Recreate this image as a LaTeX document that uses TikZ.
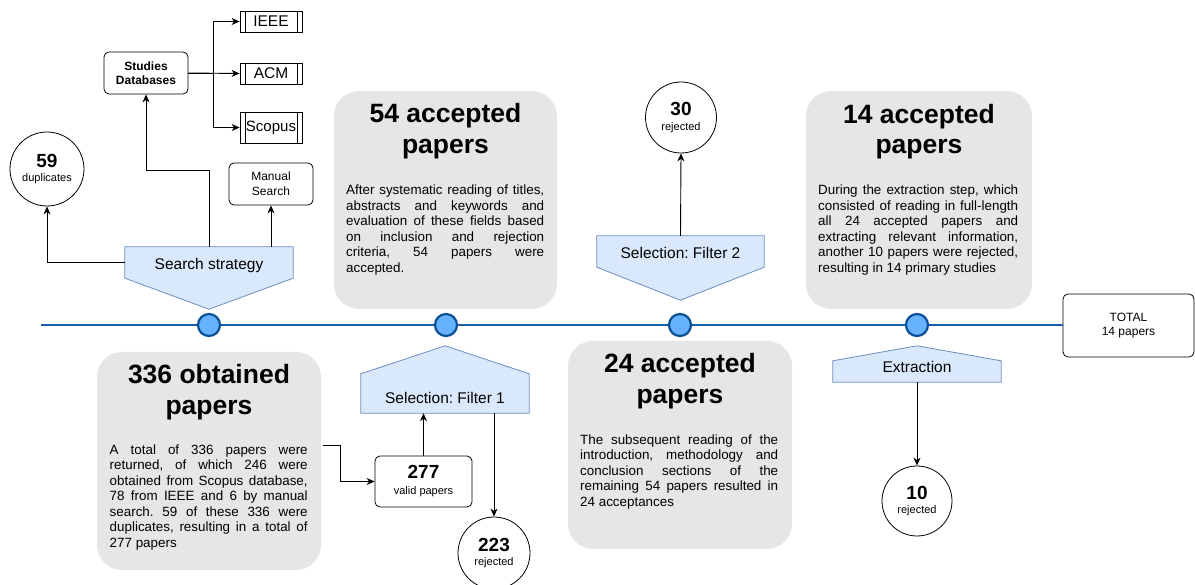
\documentclass[tikz,border=0pt]{standalone}
\usepackage{fontspec}
\setmainfont{Liberation Sans}
\usetikzlibrary{arrows.meta,backgrounds}
\frenchspacing
\definecolor{boxgray}{HTML}{E6E6E6}
\definecolor{pentfill}{HTML}{DAE8FC}
\definecolor{pentdraw}{HTML}{6C8EBF}
\definecolor{tlblue}{HTML}{1A5EA8}
\definecolor{dotdraw}{HTML}{0B4F97}
\definecolor{dotfill}{HTML}{66B2FF}
\def\jw{198pt}
\newcommand{\jl}[1]{\hbox to \jw{#1}}
\tikzset{
  graybox/.style={fill=boxgray, rounded corners=25pt, inner sep=0pt},
  titletext/.style={anchor=north, align=center, inner sep=0pt, font=\fontsize{26.5}{30.5}\selectfont\bfseries},
  bodytext/.style={anchor=north west, align=left, inner sep=0pt, font=\fontsize{13.4}{15.5}\selectfont},
  smallbox/.style={draw, rounded corners=5pt, line width=0.8pt, inner sep=0pt, align=center},
  procbox/.style={draw, line width=0.8pt, inner sep=0pt, minimum width=62pt,
    path picture={
      \draw[line width=0.8pt] ([xshift=5pt]path picture bounding box.north west) -- ([xshift=5pt]path picture bounding box.south west);
      \draw[line width=0.8pt] ([xshift=-5pt]path picture bounding box.north east) -- ([xshift=-5pt]path picture bounding box.south east);
    }},
  numcircle/.style={draw, circle, line width=0.8pt, inner sep=0pt, align=center, font=\fontsize{11}{14.3}\selectfont},
  pentrect/.style={inner sep=0pt, minimum width=168pt},
  pent/.style={fill=pentfill, draw=pentdraw, line width=0.8pt},
  pentlabel/.style={anchor=base, inner sep=0pt, font=\fontsize{15.5}{18}\selectfont},
  arr/.style={-{Stealth[length=8pt,width=7pt,inset=2.5pt]}, line width=0.9pt},
  tl/.style={draw=tlblue, line width=2.2pt},
  dot/.style={circle, draw=dotdraw, fill=dotfill, line width=2.2pt, minimum size=22pt, inner sep=0pt}
}
\begin{document}
\begin{tikzpicture}[x=1pt,y=-1pt]
\useasboundingbox (0,0) rectangle (1195,585);

% ---------- gray boxes ----------
\node[graybox, minimum width=223pt, minimum height=218pt] (b54) at (445.5,200) {};
\node[graybox, minimum width=226pt, minimum height=218pt] (b14) at (919,200) {};
\node[graybox, minimum width=224pt, minimum height=218pt] (b336) at (209,461) {};
\node[graybox, minimum width=224pt, minimum height=208pt] (b24) at (680,445) {};

\node[titletext] (t54) at (445.5,101.5) {\rule{0pt}{21pt}54 accepted\\papers};
\node[titletext] (t14) at (919,102.3) {\rule{0pt}{21pt}14 accepted\\papers};
\node[titletext] (t336) at (209,362.3) {\rule{0pt}{21pt}336 obtained\\papers};
\node[titletext] (t24) at (680,351.7) {\rule{0pt}{21pt}24 accepted\\papers};

\node[bodytext] (d54) at (346,183.5) {%
\jl{\rule{0pt}{11pt}After systematic reading of titles,}\\
\jl{abstracts and keywords and}\\
\jl{evaluation of these fields based}\\
\jl{on inclusion and rejection}\\
\jl{criteria, 54 papers were}\\
accepted.};

\node[bodytext, execute at begin node={\def\jw{200pt}}] (d14) at (818,183.5) {%
\jl{\rule{0pt}{11pt}During the extraction step, which}\\
\jl{consisted of reading in full-length}\\
\jl{all 24 accepted papers and}\\
\jl{extracting relevant information,}\\
\jl{another 10 papers were rejected,}\\
resulting in 14 primary studies};

\node[bodytext] (d336) at (109.5,443) {%
\jl{\rule{0pt}{11pt}A total of 336 papers were}\\
\jl{returned, of which 246 were}\\
\jl{obtained from Scopus database,}\\
\jl{78 from IEEE and 6 by manual}\\
\jl{search. 59 of these 336 were}\\
\jl{duplicates, resulting in a total of}\\
277 papers};

\node[bodytext] (d24) at (580,433) {%
\jl{\rule{0pt}{11pt}The subsequent reading of the}\\
\jl{introduction, methodology and}\\
\jl{conclusion sections of the}\\
\jl{remaining 54 papers resulted in}\\
24 acceptances};

% ---------- pentagon shapes ----------
\node[pentrect, minimum height=31pt] (ss) at (209,262.5) {};
\node[pentrect, minimum width=167pt, minimum height=31pt] (f2) at (680.5,251.5) {};
\node[pentrect, minimum height=39pt] (f1) at (445,393.5) {};
\node[pentrect, minimum height=21pt] (ex) at (917,371.5) {};
\begin{scope}[on background layer]
\draw[pent] (ss.north west) -- (ss.north east) -- (ss.south east) -- ([yshift=-31pt]ss.south) -- (ss.south west) -- cycle;
\draw[pent] (f2.north west) -- (f2.north east) -- (f2.south east) -- ([yshift=-33pt]f2.south) -- (f2.south west) -- cycle;
\draw[pent] (f1.south west) -- (f1.north west) -- ([yshift=28pt]f1.north) -- (f1.north east) -- (f1.south east) -- cycle;
\draw[pent] (ex.south west) -- (ex.north west) -- ([yshift=15pt]ex.north) -- (ex.north east) -- (ex.south east) -- cycle;
\end{scope}
\node[pentlabel] (ssl) at (209,269.3) {Search strategy};
\node[pentlabel] (f2l) at (680.5,258.3) {Selection: Filter 2};
\node[pentlabel] (f1l) at (445,403.3) {Selection: Filter 1};
\node[pentlabel] (exl) at (917,372.3) {Extraction};

% ---------- small boxes ----------
\node[smallbox, minimum width=84pt, minimum height=42pt, font=\fontsize{12}{14.3}\selectfont\bfseries] (sdb) at (146,73) {Studies\\Databases};
\node[smallbox, minimum width=84pt, minimum height=42pt, font=\fontsize{12}{15}\selectfont] (ms) at (271,184) {Manual\\Search};
\node[procbox, minimum height=21pt, font=\fontsize{15.5}{18}\selectfont] (ieee) at (271,21.5) {IEEE};
\node[procbox, minimum height=21pt, font=\fontsize{15.5}{18}\selectfont] (acm) at (271,73.5) {ACM};
\node[procbox, minimum height=31pt, font=\fontsize{15}{18}\selectfont] (scopus) at (271,127.5) {Scopus};
\node[smallbox, minimum width=97pt, minimum height=51pt, font=\fontsize{11}{16}\selectfont] (v277) at (423.5,481.5) {{\fontsize{19}{19}\selectfont\bfseries 277}\\valid papers};
\node[smallbox, minimum width=131pt, minimum height=63pt, font=\fontsize{12}{14.4}\selectfont] (total) at (1128.5,325.5) {TOTAL\\14 papers};

% ---------- circles ----------
\node[numcircle, minimum size=74pt] (c59) at (47,169) {{\fontsize{19}{19}\selectfont\bfseries 59}\\duplicates};
\node[numcircle, minimum size=71pt] (c30) at (681,117.5) {{\fontsize{19}{19}\selectfont\bfseries 30}\\rejected};
\node[numcircle, minimum size=72pt] (c223) at (494,553) {{\fontsize{19}{19}\selectfont\bfseries 223}\\rejected};
\node[numcircle, minimum size=70pt] (c10) at (917,501) {{\fontsize{19}{19}\selectfont\bfseries 10}\\rejected};

% ---------- timeline ----------
\coordinate (tl0) at (41,325);
\draw[tl] (tl0) -- (tl0 -| total.west);
\node[dot] (p1) at (209,325) {};
\node[dot] (p2) at (446,325) {};
\node[dot] (p3) at (680,325) {};
\node[dot] (p4) at (917,325) {};

% ---------- connectors ----------
\draw[arr] (ss.west) -| (c59.south);
\draw[arr] (ss.north) -- ++(0,-76) -| (sdb.south);
\draw[arr] (ss.north -| ms.south) -- (ms.south);
\draw[arr] (sdb.east) -- (acm.west);
\draw[arr] (sdb.east) -- ++(25,0) |- (ieee.west);
\draw[arr] (sdb.east) -- ++(25,0) |- (scopus.west);
\coordinate (a336) at (323,445);
\draw[arr] (a336) -- ++(17,0) |- (v277.west);
\draw[arr] (v277.north) -- (v277.north |- f1.south);
\draw[arr] (f1.south -| c223.north) -- (c223.north);
\draw[arr] (f2.north) -- (c30.south);
\draw[arr] (ex.south) -- (c10.north);
\end{tikzpicture}
\end{document}
